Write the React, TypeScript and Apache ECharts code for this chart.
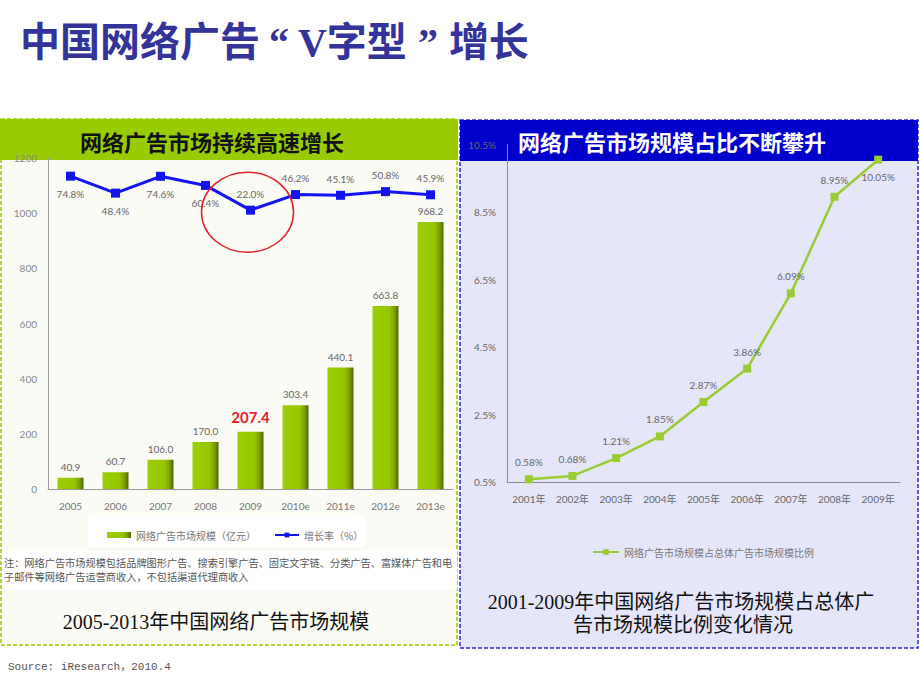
import React, { useEffect, useRef } from 'react';
import * as echarts from 'echarts';

// ---------- data ----------
const leftYears = ['2005', '2006', '2007', '2008', '2009', '2010e', '2011e', '2012e', '2013e'];
const marketSize = [40.9, 60.7, 106.0, 170.0, 207.4, 303.4, 440.1, 663.8, 968.2];
const growthRate = [74.8, 48.4, 74.6, 60.4, 22.0, 46.2, 45.1, 50.8, 45.9];
const growthLabelBelow = [true, true, true, true, false, false, false, false, false];
const highlightYear = '2009';

const rightYears = ['2001年', '2002年', '2003年', '2004年', '2005年', '2006年', '2007年', '2008年', '2009年'];
const shareValues = [0.58, 0.68, 1.21, 1.85, 2.87, 3.86, 6.09, 8.95, 10.05];
const shareLabelBelow = [false, false, false, false, false, false, false, false, true];
const rightYTicks = [0.5, 2.5, 4.5, 6.5, 8.5, 10.5];

const barName = '网络广告市场规模（亿元）';
const growthName = '增长率（%）';
const shareName = '网络广告市场规模占总体广告市场规模比例';

const noteLines = [
  '注：网络广告市场规模包括品牌图形广告、搜索引擎广告、固定文字链、分类广告、富媒体广告和电',
  '子邮件等网络广告运营商收入，不包括渠道代理商收入',
];

const CJK = '"Noto Sans CJK SC", sans-serif';
const LABEL_FONT = 'Lato, "Noto Sans CJK SC", sans-serif';
const TITLE_FONT = '"Liberation Serif", "Noto Sans CJK SC", serif';

export default function App() {
  const ref = useRef<HTMLDivElement>(null);

  useEffect(() => {
    if (!ref.current) return;
    const chart = echarts.init(ref.current, undefined, { renderer: 'svg' });

    const option: any = {
      animation: false,
      backgroundColor: '#ffffff',
      textStyle: { fontFamily: LABEL_FONT },
      grid: [
        { left: 48, top: 158, width: 405, height: 331 },
        { left: 507, top: 144.5, width: 393, height: 337.5 },
      ],
      legend: [
        {
          data: [
            { name: barName, icon: 'rect' },
            { name: growthName },
          ],
          left: 102,
          top: 525,
          itemWidth: 24,
          itemHeight: 6,
          itemGap: 18,
          textStyle: { color: '#777', fontSize: 10, fontFamily: CJK },
        },
        {
          data: [{ name: shareName }],
          left: 587,
          top: 542,
          itemWidth: 26,
          itemHeight: 7,
          textStyle: { color: '#777', fontSize: 10, fontFamily: CJK },
        },
      ],
      xAxis: [
        {
          gridIndex: 0,
          type: 'category',
          data: leftYears,
          axisLine: { lineStyle: { color: '#9a9a9a', width: 1 } },
          axisTick: { show: false },
          axisLabel: { color: '#777', fontSize: 10, margin: 12, fontFamily: LABEL_FONT },
        },
        {
          gridIndex: 1,
          type: 'category',
          data: rightYears,
          axisLine: { lineStyle: { color: '#8a8a9a', width: 1 } },
          axisTick: { show: false },
          axisLabel: { color: '#666', fontSize: 10, margin: 12, fontFamily: LABEL_FONT },
        },
      ],
      yAxis: [
        {
          gridIndex: 0,
          type: 'value',
          min: 0,
          max: 1200,
          interval: 200,
          axisLine: { show: true, lineStyle: { color: '#9a9a9a', width: 1 } },
          axisTick: { show: false },
          splitLine: { show: false },
          axisLabel: { color: '#888', fontSize: 10, margin: 11, formatter: (v: number) => String(v) },
        },
        {
          gridIndex: 0,
          type: 'value',
          min: -411,
          max: 103,
          show: false,
          splitLine: { show: false },
        },
        {
          gridIndex: 1,
          type: 'value',
          min: 0.5,
          max: 10.5,
          axisLine: { show: true, lineStyle: { color: '#8a8a9a', width: 1 } },
          axisTick: { show: false },
          splitLine: { show: false },
          axisLabel: {
            color: '#666',
            fontSize: 10,
            margin: 11,
            customValues: rightYTicks,
            formatter: (v: number) => v.toFixed(1) + '%',
          },
        },
      ],
      series: [
        {
          name: barName,
          type: 'bar',
          xAxisIndex: 0,
          yAxisIndex: 0,
          barWidth: 26,
          itemStyle: {
            color: new echarts.graphic.LinearGradient(0, 0, 1, 0, [
              { offset: 0, color: '#9CCF05' },
              { offset: 0.65, color: '#95C600' },
              { offset: 0.85, color: '#7A9E00' },
              { offset: 1, color: '#4C6600' },
            ]),
          },
          label: {
            show: true,
            position: 'top',
            distance: 6,
            color: '#666',
            fontSize: 10,
            formatter: (p: any) => Number(p.value).toFixed(1),
          },
          data: marketSize.map((v, i) =>
            leftYears[i] === highlightYear
              ? { value: v, label: { color: '#E3202A', fontSize: 15, fontWeight: 'bold', distance: 7 } }
              : v
          ),
          z: 2,
        },
        {
          name: growthName,
          type: 'line',
          xAxisIndex: 0,
          yAxisIndex: 1,
          symbol: 'rect',
          symbolSize: 9,
          lineStyle: { color: '#1414F0', width: 3 },
          itemStyle: { color: '#1414F0' },
          label: {
            show: true,
            color: '#666',
            fontSize: 10,
            formatter: (p: any) => Number(p.value).toFixed(1) + '%',
          },
          data: growthRate.map((v, i) => ({
            value: v,
            label: growthLabelBelow[i] ? { position: 'bottom', distance: 8 } : { position: 'top', distance: 7 },
          })),
          z: 3,
        },
        {
          name: shareName,
          type: 'line',
          xAxisIndex: 1,
          yAxisIndex: 2,
          symbol: 'rect',
          symbolSize: 8,
          lineStyle: { color: '#99CC33', width: 2.5 },
          itemStyle: { color: '#99CC33' },
          label: {
            show: true,
            color: '#666',
            fontSize: 10,
            formatter: (p: any) => Number(p.value).toFixed(2) + '%',
          },
          data: shareValues.map((v, i) => ({
            value: v,
            label: shareLabelBelow[i] ? { position: 'bottom', distance: 8 } : { position: 'top', distance: 8 },
          })),
          z: 3,
        },
      ],
    };

    chart.setOption(option);

    const cx = chart.convertToPixel({ xAxisIndex: 0 } as any, highlightYear) as unknown as number;
    const cyIdx = leftYears.indexOf(highlightYear);
    const cy = chart.convertToPixel({ yAxisIndex: 1 } as any, growthRate[cyIdx]) as unknown as number;

    const titleBase = { fontSize: 40, fontWeight: 'bold', fill: '#333399', fontFamily: TITLE_FONT };

    const graphic: any[] = [
      // left panel
      {
        type: 'rect', z: -10,
        shape: { x: 1, y: 119, width: 456, height: 526 },
        style: { fill: '#FAFBF4', stroke: '#99CC00', lineWidth: 1.5, lineDash: [4, 2] },
      },
      {
        type: 'rect', z: -9,
        shape: { x: 0, y: 119, width: 458, height: 41 },
        style: { fill: '#99CC00' },
      },
      {
        type: 'text', z: 10, x: 212, y: 141,
        style: {
          text: '网络广告市场持续高速增长', fill: '#111', fontSize: 22, fontWeight: 'bold',
          fontFamily: CJK, align: 'center', verticalAlign: 'middle',
        },
      },
      {
        type: 'rect', z: -8,
        shape: { x: 88, y: 515, width: 277, height: 32 },
        style: { fill: '#ffffff' },
      },
      {
        type: 'rect', z: -8,
        shape: { x: 2, y: 551, width: 455, height: 39 },
        style: { fill: '#ffffff' },
      },
      ...noteLines.map((t, i) => ({
        type: 'text', z: 10, x: 4, y: 562 + i * 14,
        style: { text: t, fill: '#555', fontSize: 10.2, fontFamily: CJK, verticalAlign: 'middle' },
      })),
      {
        type: 'text', z: 10, x: 216, y: 622,
        style: {
          text: '2005-2013年中国网络广告市场规模', fill: '#111', fontSize: 20,
          fontFamily: TITLE_FONT, align: 'center', verticalAlign: 'middle',
        },
      },
      // right panel
      {
        type: 'rect', z: -10,
        shape: { x: 460, y: 120, width: 458, height: 528 },
        style: { fill: '#E6E6FA', stroke: '#2B2BCC', lineWidth: 1.5, lineDash: [4, 2] },
      },
      {
        type: 'rect', z: -9,
        shape: { x: 460, y: 120, width: 458, height: 41 },
        style: { fill: '#0000CC' },
      },
      {
        type: 'text', z: 10, x: 672, y: 141,
        style: {
          text: '网络广告市场规模占比不断攀升', fill: '#ffffff', fontSize: 22, fontWeight: 'bold',
          fontFamily: CJK, align: 'center', verticalAlign: 'middle',
        },
      },
      {
        type: 'text', z: 10, x: 681, y: 602,
        style: {
          text: '2001-2009年中国网络广告市场规模占总体广', fill: '#111', fontSize: 20,
          fontFamily: TITLE_FONT, align: 'center', verticalAlign: 'middle',
        },
      },
      {
        type: 'text', z: 10, x: 683, y: 625,
        style: {
          text: '告市场规模比例变化情况', fill: '#111', fontSize: 20,
          fontFamily: TITLE_FONT, align: 'center', verticalAlign: 'middle',
        },
      },
      // slide title
      {
        type: 'text', z: 10, x: 20, y: 42,
        style: {
          text: '{a|中国网络广告}{q1|“}{a|V字型}{q2|”}{a|增长}',
          verticalAlign: 'middle',
          ...titleBase,
          rich: {
            a: { ...titleBase },
            q1: { ...titleBase, width: 38, align: 'right' },
            q2: { ...titleBase, width: 42, align: 'left' },
          },
        },
      },
      {
        type: 'text', z: 10, x: 8, y: 667,
        style: {
          text: 'Source: iResearch，2010.4', fill: '#555', fontSize: 11,
          fontFamily: '"Liberation Mono", "Noto Sans CJK SC", monospace', verticalAlign: 'middle',
        },
      },
      // red highlight circle
      {
        type: 'ellipse', z: 20,
        shape: { cx: cx - 3, cy: cy + 2, rx: 46, ry: 40 },
        style: { fill: 'none', stroke: '#E3202A', lineWidth: 1.5 },
      },
    ];

    chart.setOption({ graphic });

    return () => chart.dispose();
  }, []);

  return (
    <div
      ref={ref}
      style={{ position: 'fixed', left: 0, top: 0, width: 920, height: 690 }}
    />
  );
}
